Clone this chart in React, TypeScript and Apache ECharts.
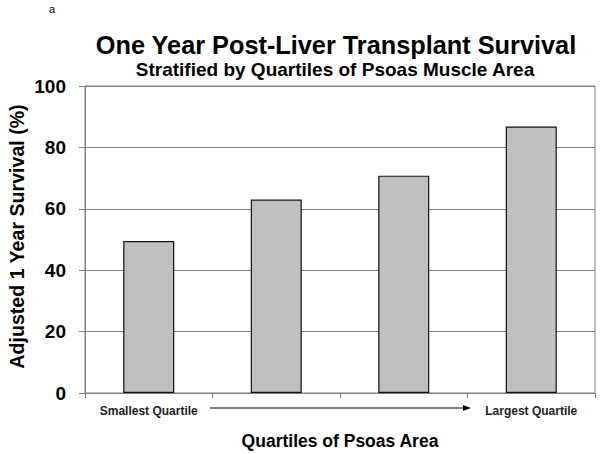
import React, { useEffect, useRef } from "react";
import * as echarts from "echarts";

const categories = ["Smallest Quartile", "", "", "Largest Quartile"];
const survival = [49.5, 63, 70.8, 86.8];
const yTicks = { min: 0, max: 100, interval: 20 };

const FONT = "'Liberation Sans', Arial, sans-serif";

export default function App() {
  const ref = useRef<HTMLDivElement>(null);
  useEffect(() => {
    const chart = echarts.init(ref.current!, null, { renderer: "svg" });
    chart.setOption({
      animation: false,
      backgroundColor: "#ffffff",
      textStyle: { fontFamily: FONT },
      title: [
        {
          text: "One Year Post-Liver Transplant Survival",
          left: 331,
          top: 27,
          textAlign: "center",
          textStyle: { fontFamily: FONT, fontSize: 25.3, fontWeight: "bold", color: "#000" },
        },
        {
          text: "Stratified by Quartiles of Psoas Muscle Area",
          left: 330,
          top: 55,
          textAlign: "center",
          textStyle: { fontFamily: FONT, fontSize: 19, fontWeight: "bold", color: "#000" },
        },
        {
          text: "a",
          left: 44,
          top: -2,
          textStyle: { fontFamily: FONT, fontSize: 11, fontWeight: "normal", color: "#000" },
        },
      ],
      grid: {
        left: 85,
        right: 5,
        top: 86,
        bottom: 61,
        outerBoundsMode: "none",
        containLabel: false,
        show: true,
        borderColor: "#808080",
        borderWidth: 1,
      },
      xAxis: {
        type: "category",
        data: categories,
        name: "Quartiles of Psoas Area",
        nameLocation: "middle",
        nameGap: 39,
        nameMoveOverlap: false,
        nameTextStyle: { fontFamily: FONT, fontSize: 17.5, fontWeight: "bold", color: "#000" },
        axisLine: { lineStyle: { color: "#808080" } },
        axisTick: { show: true, alignWithLabel: false, length: 5, lineStyle: { color: "#808080" } },
        axisLabel: {
          interval: 0,
          margin: 12,
          fontFamily: FONT,
          fontSize: 12,
          fontWeight: "bold",
          color: "#222",
        },
      },
      yAxis: {
        type: "value",
        min: yTicks.min,
        max: yTicks.max,
        interval: yTicks.interval,
        name: "Adjusted 1 Year Survival (%)",
        nameLocation: "middle",
        nameGap: 58,
        nameRotate: 90,
        nameMoveOverlap: false,
        nameTextStyle: {
          fontFamily: FONT,
          fontSize: 19.6,
          fontWeight: "bold",
          color: "#000",
          padding: [0, 0, 0, 6],
        },
        axisLine: { show: true, lineStyle: { color: "#808080" } },
        axisTick: { show: true, length: 6, lineStyle: { color: "#808080" } },
        splitLine: { show: true, lineStyle: { color: "#808080", width: 1 } },
        axisLabel: {
          margin: 19,
          fontFamily: FONT,
          fontSize: 19,
          fontWeight: "bold",
          color: "#000",
        },
      },
      series: [
        {
          type: "bar",
          data: survival,
          barWidth: "40%",
          itemStyle: { color: "#c0c0c0", borderColor: "#111", borderWidth: 1.2 },
        },
      ],
      graphic: [
        {
          type: "line",
          shape: { x1: 210, y1: 408, x2: 464, y2: 408 },
          style: { stroke: "#000", lineWidth: 1 },
        },
        {
          type: "polygon",
          shape: { points: [[471, 408], [463, 405], [463, 411]] },
          style: { fill: "#000" },
        },
      ],
    });
    return () => chart.dispose();
  }, []);
  return (
    <div
      ref={ref}
      style={{ position: "absolute", left: 0, top: 0, width: 600, height: 454 }}
    />
  );
}
